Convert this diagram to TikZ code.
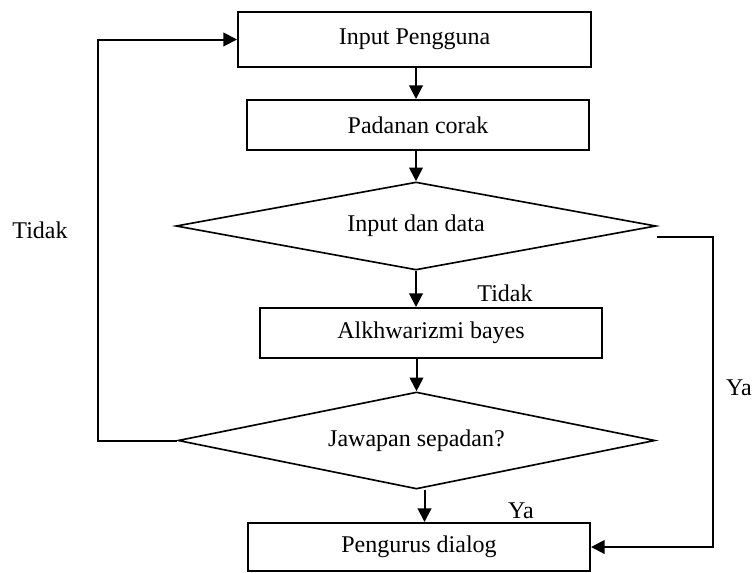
\documentclass[tikz,border=0pt]{standalone}
\usepackage{fontspec}
\setmainfont{Liberation Serif}
\usetikzlibrary{shapes.geometric,arrows.meta}

\begin{document}
\begin{tikzpicture}[x=0.55pt,y=-0.55pt,font=\fontsize{13.2}{15}\selectfont,
        kotak/.style={draw,line width=1.1pt,inner sep=1pt},
        pilih/.style={draw,diamond,aspect=5.5,inner sep=1pt,line width=0.9pt},
        anak/.style={-{Triangle[length=7.5pt,width=7.5pt]},line width=1.1pt}]
             \useasboundingbox (0,0) rectangle (755,572);
             \pgfmathsetmacro\u{0.55};
             \node[kotak,minimum width={353*\u pt},minimum height={55*\u pt}] (input) at (414.5,39.5) {Input Pengguna};
             \node[kotak,minimum width={342*\u pt},minimum height={50*\u pt}] (padanan) at (418,125) {Padanan corak};
             \node[pilih,minimum width={480*\u pt},minimum height={88*\u pt}] (data) at (416,226) {Input dan data};
             \node[kotak,minimum width={342*\u pt},minimum height={50*\u pt}] (bayes) at (431,333) {Alkhwarizmi bayes};
             \node[pilih,minimum width={477*\u pt},minimum height={97*\u pt}] (jawapan) at (416.5,440.5) {Jawapan sepadan?};
             \node[kotak,minimum width={342*\u pt},minimum height={48*\u pt}] (dialog) at (419,547) {Pengurus dialog};
             % anak panah utama
             \draw[anak] (input.south -| data.north) -- (padanan.north -| data.north);
             \draw[anak] (padanan.south -| data.north) -- (data.north);
             \draw[anak] (data.south) -- (data.south |- bayes.north);
             \draw[anak] (bayes.south -| jawapan.north) -- (jawapan.north);
             \draw[anak] ([xshift={8*\u pt}]jawapan.south) -- ([xshift={8*\u pt}]jawapan.south |- dialog.north);
             % gelung kiri dan kanan
             \draw[anak] (jawapan.west) -- (98,440.5) |- (input.west);
             \draw[anak] ([yshift={-11*\u pt}]data.east) -- (713,237) |- (dialog.east);
             \node (tidakkiri) at (40,230) {Tidak};
             \node (tidaktengah) at (505,293) {Tidak};
             \node (yatengah) at (521,511) {Ya};
             \node (yakanan) at (739,388) {Ya};
        \end{tikzpicture}
\end{document}
